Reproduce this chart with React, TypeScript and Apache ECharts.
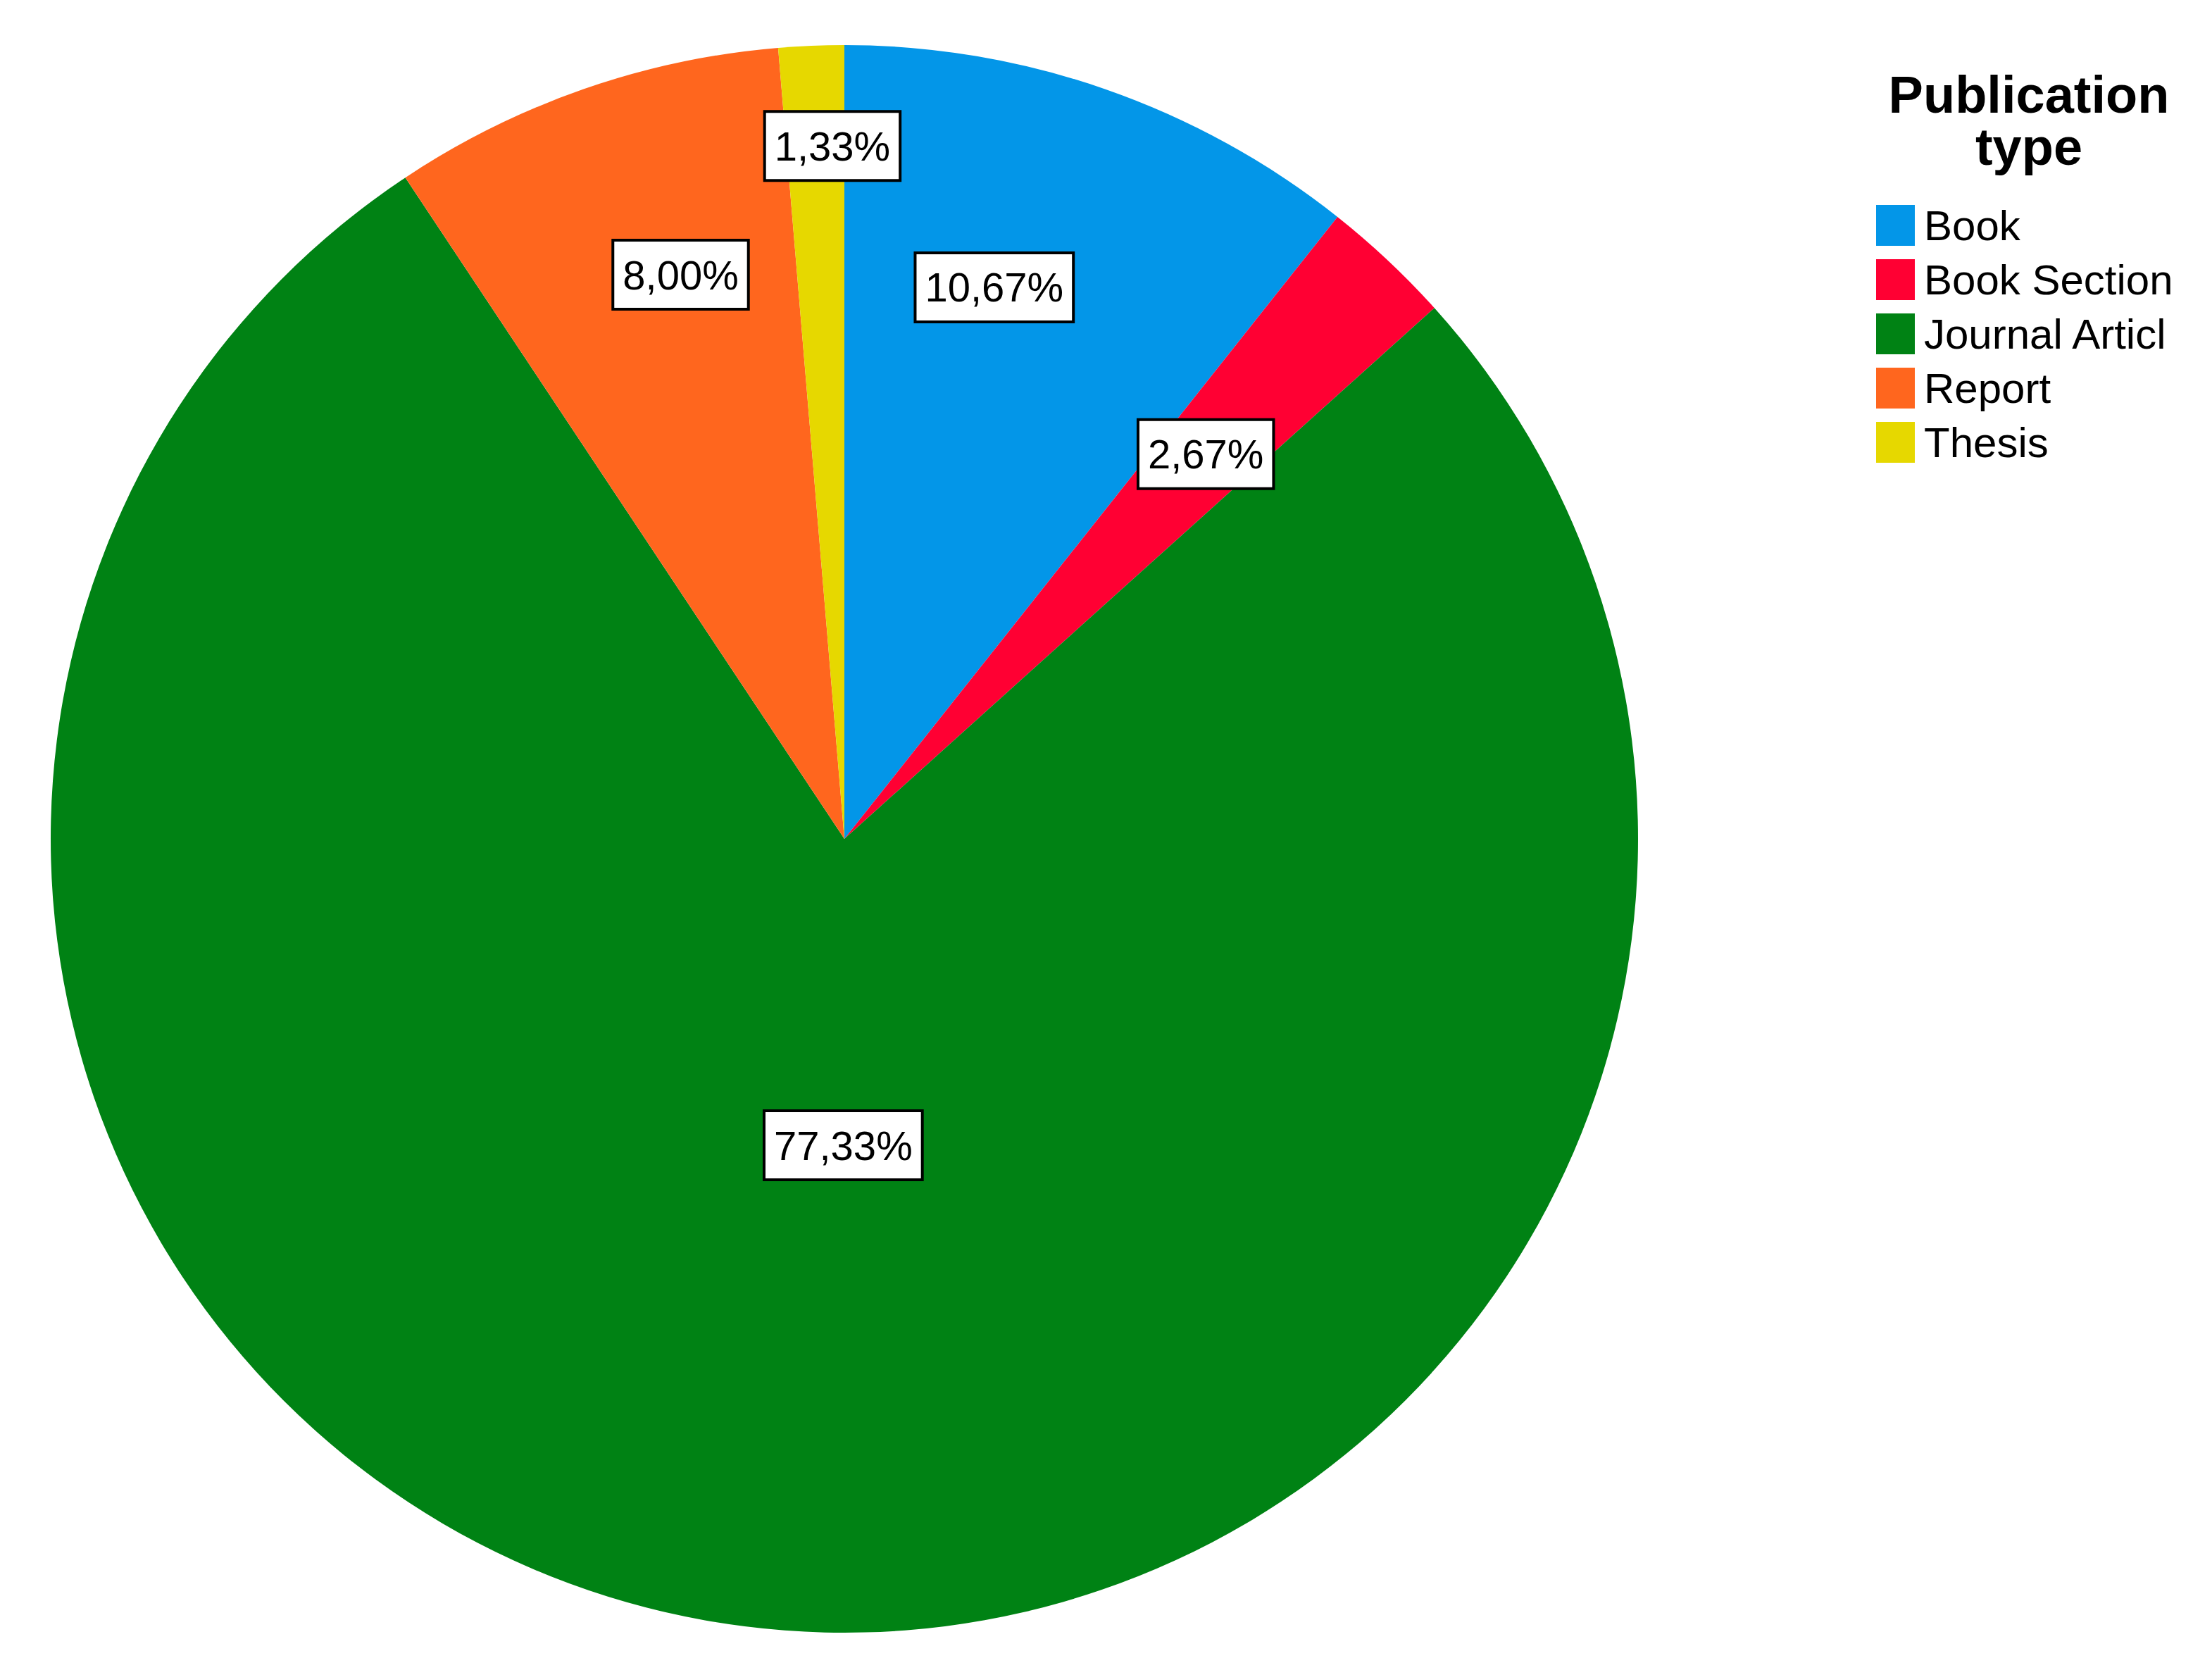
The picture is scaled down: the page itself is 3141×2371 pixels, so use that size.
import React, { useEffect, useRef } from "react";
import * as echarts from "echarts";

const CATEGORIES = ["Book", "Book Section", "Journal Articl", "Report", "Thesis"];
const PERCENTS = [10.67, 2.67, 77.33, 8.0, 1.33];
const COLORS = ["#0396E8", "#FF0033", "#008214", "#FF661E", "#E6D800"];
const LEGEND_TITLE = "Publication\ntype";

// label placement: angle shift from slice mid-angle (deg) and radius fraction
const LABEL_ANGLE_SHIFT = [-4, 0, -7, 3, 1.4];
const LABEL_RADIUS_FRAC = [0.72, 0.665, 0.386, 0.74, 0.873];

const CX = 1199;
const CY = 1191;
const R = 1127;

export default function App() {
  const ref = useRef<HTMLDivElement>(null);
  useEffect(() => {
    document.body.style.margin = "0";
    document.body.style.overflow = "hidden";
    const chart = echarts.init(ref.current!, null, { renderer: "svg" });
    const total = PERCENTS.reduce((a, b) => a + b, 0);
    const option: any = {
      animation: false,
      backgroundColor: "#ffffff",
      color: COLORS,
      graphic: [
        {
          type: "text",
          x: 2881,
          y: 97,
          style: {
            text: LEGEND_TITLE,
            align: "center",
            textAlign: "center",
            verticalAlign: "top",
            textVerticalAlign: "top",
            fontFamily: "Liberation Sans",
            fontWeight: "bold",
            fontSize: 74,
            lineHeight: 74,
            fill: "#000",
          },
        },
      ],
      legend: {
        data: CATEGORIES,
        orient: "vertical",
        left: 2664,
        top: 283,
        padding: 0,
        itemWidth: 55,
        itemHeight: 58,
        itemGap: 3,
        icon: "rect",
        selectedMode: false,
        textStyle: {
          fontFamily: "Liberation Sans",
          fontSize: 60,
          lineHeight: 58,
          color: "#000",
          padding: [16, 0, 0, 8],
        },
      },
      series: [
        {
          type: "pie",
          center: [CX, CY],
          radius: R,
          startAngle: 90,
          clockwise: true,
          silent: true,
          emphasis: { disabled: true },
          itemStyle: { borderWidth: 0 },
          data: CATEGORIES.map((name, i) => ({ name, value: PERCENTS[i] })),
          label: {
            show: true,
            position: "inside",
            formatter: (p: any) => p.value.toFixed(2).replace(".", ",") + "%",
            fontFamily: "Liberation Sans",
            fontSize: 58,
            lineHeight: 58,
            color: "#000",
            backgroundColor: "#ffffff",
            borderColor: "#000",
            borderWidth: 4,
            padding: [20, 12, 16, 12],
          },
          labelLine: { show: false },
          labelLayout: (params: any) => {
            const i = params.dataIndex;
            let cum = 0;
            for (let k = 0; k < i; k++) cum += PERCENTS[k];
            const mid = ((cum + PERCENTS[i] / 2) / total) * 360 + LABEL_ANGLE_SHIFT[i];
            const rad = (mid * Math.PI) / 180;
            const d = R * LABEL_RADIUS_FRAC[i];
            return {
              x: CX + Math.sin(rad) * d,
              y: CY - Math.cos(rad) * d,
              align: "center",
              verticalAlign: "middle",
            };
          },
        },
      ],
    };
    chart.setOption(option);
    return () => chart.dispose();
  }, []);
  return <div ref={ref} style={{ width: 3141, height: 2371 }} />;
}
